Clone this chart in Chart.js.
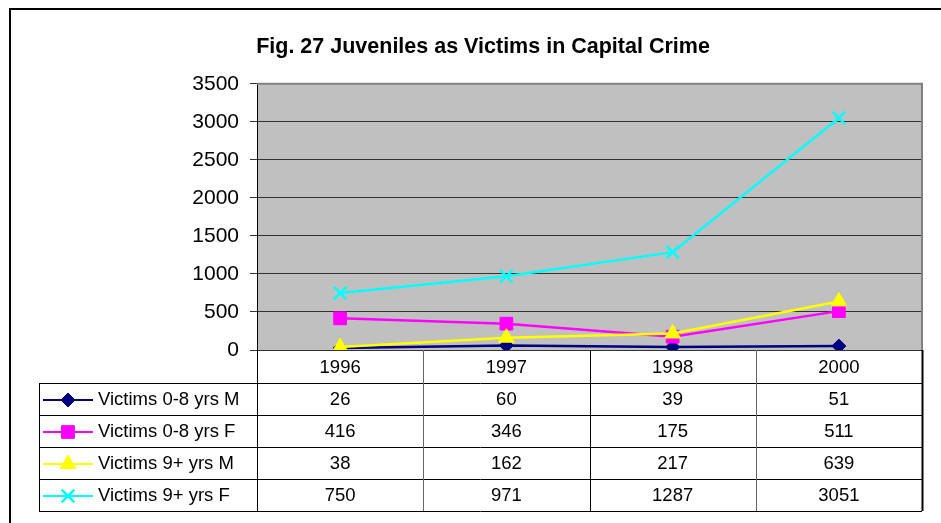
<!DOCTYPE html>
<html>
<head>
<meta charset="utf-8">
<script src="https://cdn.jsdelivr.net/npm/chart.js@4/dist/chart.umd.min.js"></script>
<style>
  html, body { margin: 0; padding: 0; background: #fff; }
  #wrap { position: relative; width: 941px; height: 523px; }
</style>
</head>
<body>
<div id="wrap"><canvas id="chart" width="941" height="523"></canvas></div>
<script>
const years = ['1996', '1997', '1998', '2000'];
const victimsYoungM = [26, 60, 39, 51];
const victimsYoungF = [416, 346, 175, 511];
const victimsOlderM = [38, 162, 217, 639];
const victimsOlderF = [750, 971, 1287, 3051];
const seriesNames = ['Victims 0-8 yrs M', 'Victims 0-8 yrs F', 'Victims 9+ yrs M', 'Victims 9+ yrs F'];
const yTicks = [0, 500, 1000, 1500, 2000, 2500, 3000, 3500];

const FONT = 'Arial, "Liberation Sans", sans-serif';

// plot background, outer frame and the data table below the chart
const frameAndTable = {
    id: 'frameAndTable',
    beforeDraw(chart) {
        const { ctx, chartArea: a } = chart;
        ctx.save();
        ctx.fillStyle = '#c0c0c0';
        ctx.fillRect(a.left, a.top, a.right - a.left, a.bottom - a.top);
        // outer frame
        ctx.strokeStyle = '#000';
        ctx.lineWidth = 2;
        ctx.beginPath();
        ctx.moveTo(10, 523);
        ctx.lineTo(10, 9);
        ctx.lineTo(941, 9);
        ctx.stroke();
        ctx.restore();
    },
    afterDatasetsDraw(chart) {
        const { ctx, chartArea: a, scales } = chart;
        const x = scales.x;
        const colW = (a.right - a.left) / years.length;
        const rowH = 32;
        const headTop = a.bottom;
        const headBottom = headTop + 33;
        const tableLeft = 39;
        const bottom = headBottom + rowH * seriesNames.length;

        ctx.save();
        // plot border (gray top/right)
        ctx.strokeStyle = '#808080';
        ctx.lineWidth = 2;
        ctx.beginPath();
        ctx.moveTo(a.left, a.top);
        ctx.lineTo(a.right, a.top);
        ctx.lineTo(a.right, a.bottom);
        ctx.stroke();

        ctx.lineWidth = 1;
        ctx.strokeStyle = '#000';
        // horizontal rules
        ctx.beginPath();
        for (let r = 0; r <= seriesNames.length; r++) {
            const yy = Math.round(headBottom + r * rowH) + 0.5;
            ctx.moveTo(tableLeft, yy);
            ctx.lineTo(a.right, yy);
        }
        // legend column left border
        ctx.moveTo(tableLeft + 0.5, headBottom);
        ctx.lineTo(tableLeft + 0.5, bottom);
        ctx.stroke();
        // column dividers
        for (let c = 0; c <= years.length; c++) {
            const xx = Math.round(a.left + c * colW) + 0.5;
            ctx.strokeStyle = (c === 1 || c === 3) ? '#666' : '#000';
            ctx.lineWidth = (c === 4) ? 2 : 1;
            ctx.beginPath();
            ctx.moveTo(xx, headTop);
            ctx.lineTo(xx, bottom);
            ctx.stroke();
        }

        ctx.fillStyle = '#000';
        ctx.font = '18.5px ' + FONT;
        ctx.textAlign = 'center';
        ctx.textBaseline = 'middle';
        years.forEach((yr, i) => {
            ctx.fillText(yr, x.getPixelForValue(i), (headTop + headBottom) / 2 + 1);
        });

        chart.data.datasets.forEach((ds, r) => {
            const cy = headBottom + r * rowH + rowH / 2 + 1;
            ds.data.forEach((v, i) => {
                ctx.textAlign = 'center';
                ctx.fillStyle = '#000';
                ctx.fillText(String(v), x.getPixelForValue(i), cy);
            });
            // legend key: line + marker
            ctx.strokeStyle = ds.borderColor;
            ctx.lineWidth = 2;
            ctx.beginPath();
            ctx.moveTo(43, cy);
            ctx.lineTo(93, cy);
            ctx.stroke();
            ctx.fillStyle = ds.pointBackgroundColor;
            ctx.strokeStyle = ds.pointBorderColor;
            ctx.lineWidth = ds.pointBorderWidth || 1;
            Chart.helpers.drawPoint(ctx, {
                pointStyle: ds.pointStyle,
                radius: ds.pointRadius,
                rotation: 0,
                borderWidth: ds.pointBorderWidth || 1
            }, 68, cy);
            ctx.textAlign = 'left';
            ctx.fillStyle = '#000';
            ctx.fillText(seriesNames[r], 98, cy);
        });
        ctx.restore();
    }
};

function series(label, data, color, style, radius, order, extra) {
    return Object.assign({
        label: label,
        data: data,
        order: order,
        borderColor: color,
        backgroundColor: color,
        pointBackgroundColor: color,
        pointBorderColor: color,
        pointStyle: style,
        pointRadius: radius,
        pointHoverRadius: radius,
        pointBorderWidth: 1,
        borderWidth: 2.5,
        tension: 0,
        fill: false
    }, extra || {});
}

new Chart(document.getElementById('chart'), {
    type: 'line',
    data: {
        labels: years,
        datasets: [
            series(seriesNames[0], victimsYoungM, '#000080', 'rectRot', 7, 4),
            series(seriesNames[1], victimsYoungF, '#ff00ff', 'rect', 9, 3),
            series(seriesNames[2], victimsOlderM, '#ffff00', 'triangle', 9, 2),
            series(seriesNames[3], victimsOlderF, '#00ffff', 'crossRot', 9, 1, { pointBorderWidth: 2.5 })
        ]
    },
    options: {
        responsive: false,
        animation: false,
        events: [],
        layout: { padding: { left: 44, right: 19, top: 9, bottom: 173 } },
        plugins: {
            legend: { display: false },
            tooltip: { enabled: false },
            title: {
                display: true,
                text: 'Fig. 27 Juveniles as Victims in Capital Crime',
                color: '#000',
                font: { family: FONT, size: 21.5, weight: 'bold', lineHeight: 1.2 },
                padding: { top: 25, bottom: 24 }
            }
        },
        scales: {
            x: {
                display: false,
                offset: true
            },
            y: {
                min: 0,
                max: 3500,
                afterBuildTicks: scale => { scale.ticks = yTicks.map(v => ({ value: v })); },
                afterFit: scale => { scale.width = 213; },
                border: { display: true, color: '#000', width: 1 },
                grid: {
                    color: '#333',
                    lineWidth: 1,
                    drawTicks: true,
                    tickLength: 7,
                    tickColor: '#333'
                },
                ticks: {
                    color: '#000',
                    padding: 11,
                    font: { family: FONT, size: 21 },
                    callback: v => String(v)
                }
            }
        }
    },
    plugins: [frameAndTable]
});
</script>
</body>
</html>
